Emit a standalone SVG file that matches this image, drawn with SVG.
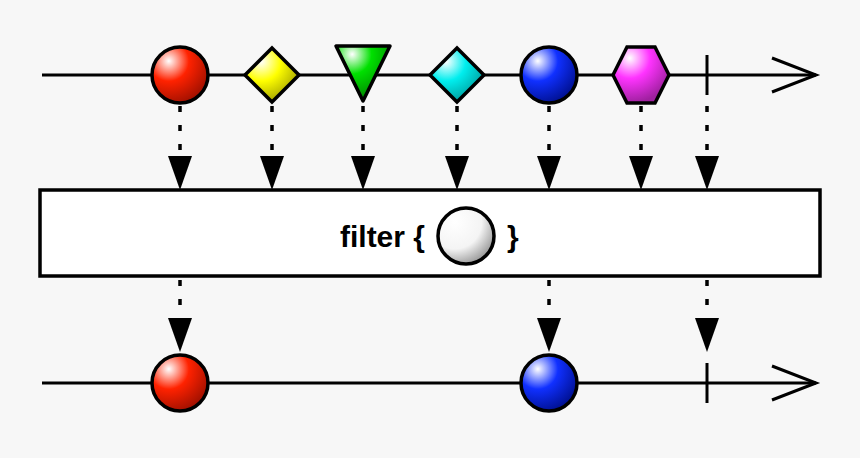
<svg xmlns="http://www.w3.org/2000/svg" width="860" height="458" viewBox="0 0 860 458">
<defs>
<radialGradient id="gr" cx="0.3" cy="0.25" r="0.8"><stop offset="0" stop-color="#fff"/><stop offset="0.45" stop-color="#ff2200"/><stop offset="1" stop-color="#a01000"/></radialGradient>
<radialGradient id="gy" cx="0.3" cy="0.25" r="0.8"><stop offset="0" stop-color="#fff"/><stop offset="0.45" stop-color="#ffff00"/><stop offset="1" stop-color="#a0a000"/></radialGradient>
<radialGradient id="gg" cx="0.3" cy="0.15" r="0.8"><stop offset="0" stop-color="#fff"/><stop offset="0.45" stop-color="#00e000"/><stop offset="1" stop-color="#009000"/></radialGradient>
<radialGradient id="gc" cx="0.3" cy="0.25" r="0.8"><stop offset="0" stop-color="#fff"/><stop offset="0.45" stop-color="#00eeee"/><stop offset="1" stop-color="#009a9a"/></radialGradient>
<radialGradient id="gb" cx="0.3" cy="0.25" r="0.8"><stop offset="0" stop-color="#fff"/><stop offset="0.45" stop-color="#1030ff"/><stop offset="1" stop-color="#001090"/></radialGradient>
<radialGradient id="gm" cx="0.3" cy="0.2" r="0.8"><stop offset="0" stop-color="#fff"/><stop offset="0.45" stop-color="#ff33ff"/><stop offset="1" stop-color="#a020a0"/></radialGradient>
<radialGradient id="gw" cx="0.3" cy="0.25" r="0.8"><stop offset="0" stop-color="#fff"/><stop offset="0.6" stop-color="#f4f4f4"/><stop offset="1" stop-color="#999"/></radialGradient>
</defs>
<style>
.ln{stroke:#000;stroke-width:3;fill:none}
.sh{stroke:#000;stroke-width:3.5}
.dt{stroke:#000;stroke-width:3.5;stroke-dasharray:6 13;fill:none}
.hd{fill:#000}
.tx{font-family:"Liberation Sans",Arial,sans-serif;font-weight:bold;font-size:30px;fill:#000}
</style>
<rect width="860" height="458" fill="#f7f7f7"/>
<g id="connectors">
<line class="ln" x1="42" y1="75" x2="816" y2="75"/>
<polyline class="ln" points="772,58 816,75 772,92"/>
<line class="ln" x1="42" y1="383" x2="816" y2="383"/>
<polyline class="ln" points="772,366 816,383 772,400"/>
<line class="dt" x1="180" y1="106" x2="180" y2="160"/><polygon class="hd" points="168,156 192,156 180,190"/>
<line class="dt" x1="272" y1="106" x2="272" y2="160"/><polygon class="hd" points="260,156 284,156 272,190"/>
<line class="dt" x1="363" y1="106" x2="363" y2="160"/><polygon class="hd" points="351,156 375,156 363,190"/>
<line class="dt" x1="457" y1="106" x2="457" y2="160"/><polygon class="hd" points="445,156 469,156 457,190"/>
<line class="dt" x1="549" y1="106" x2="549" y2="160"/><polygon class="hd" points="537,156 561,156 549,190"/>
<line class="dt" x1="641" y1="106" x2="641" y2="160"/><polygon class="hd" points="629,156 653,156 641,190"/>
<line class="dt" x1="707" y1="106" x2="707" y2="160"/><polygon class="hd" points="695,156 719,156 707,190"/>
<line class="dt" x1="180" y1="280" x2="180" y2="320"/><polygon class="hd" points="168,318 192,318 180,352"/>
<line class="dt" x1="549" y1="280" x2="549" y2="320"/><polygon class="hd" points="537,318 561,318 549,352"/>
<line class="dt" x1="707" y1="280" x2="707" y2="320"/><polygon class="hd" points="695,318 719,318 707,352"/>
</g>
<g id="in-red"><circle class="sh" cx="180" cy="75" r="28" fill="url(#gr)"/></g>
<g id="in-yellow"><polygon class="sh" points="272,48 299,75 272,102 245,75" fill="url(#gy)"/></g>
<g id="in-green"><polygon class="sh" points="336,46 390,46 363,101" fill="url(#gg)" stroke-linejoin="round"/></g>
<g id="in-cyan"><polygon class="sh" points="457,48 484,75 457,102 430,75" fill="url(#gc)"/></g>
<g id="in-blue"><circle class="sh" cx="549" cy="75" r="28" fill="url(#gb)"/></g>
<g id="in-magenta"><polygon class="sh" points="627,47 655,47 669,75 655,103 627,103 613,75" fill="url(#gm)"/></g>
<g id="in-complete"><line class="ln" x1="707" y1="55" x2="707" y2="95"/></g>
<g id="filter">
<rect x="40" y="190" width="780" height="86" fill="#fff" stroke="#000" stroke-width="3.5"/>
<text class="tx" x="425" y="247" text-anchor="end">filter {</text>
<circle class="sh" cx="466" cy="236" r="28" fill="url(#gw)"/>
<text class="tx" x="507" y="247">}</text>
</g>
<g id="out-red"><circle class="sh" cx="180" cy="383" r="28" fill="url(#gr)"/></g>
<g id="out-blue"><circle class="sh" cx="549" cy="383" r="28" fill="url(#gb)"/></g>
<g id="out-complete"><line class="ln" x1="707" y1="363" x2="707" y2="403"/></g>
</svg>
